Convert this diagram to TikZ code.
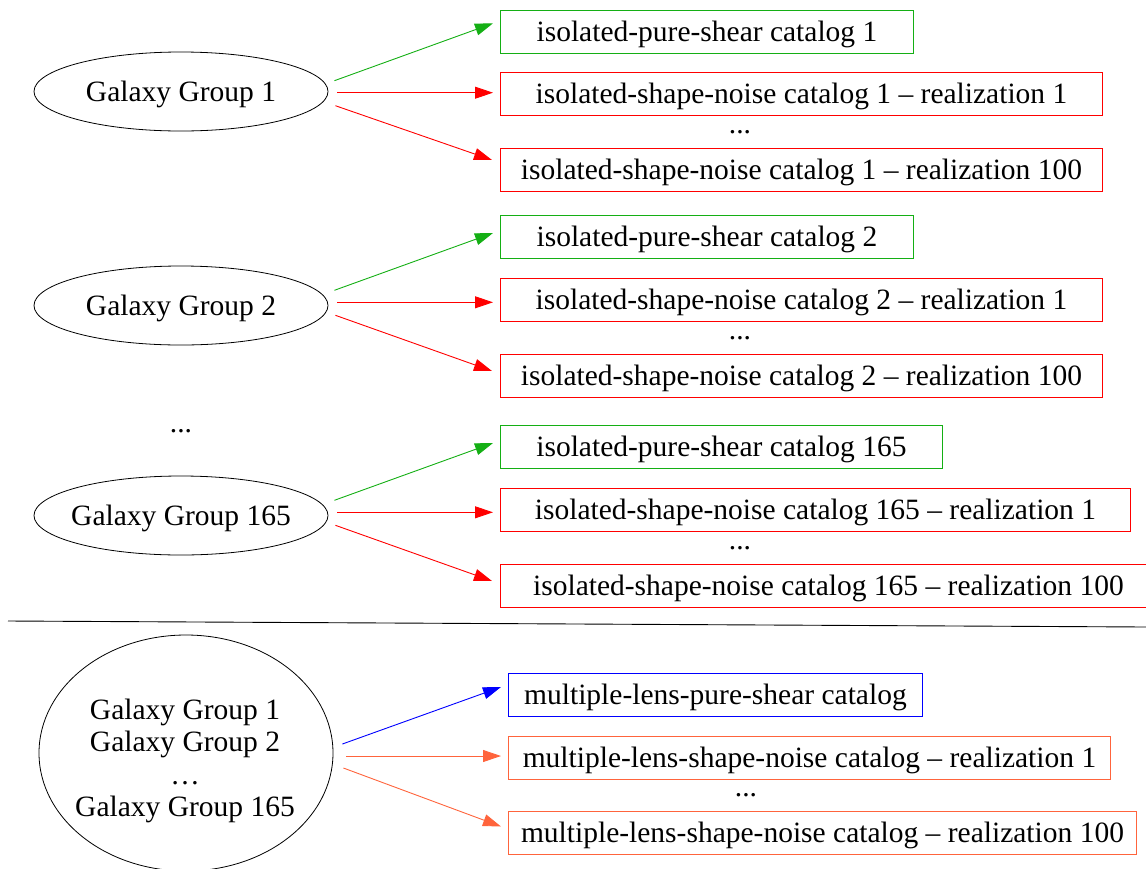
\documentclass[tikz,border=0pt]{standalone}
\usepackage{fontspec}
\setmainfont{Liberation Serif}
\usetikzlibrary{arrows.meta,shapes.geometric}
\definecolor{cgreen}{RGB}{20,175,20}
\definecolor{corange}{RGB}{255,100,60}
\begin{document}
\begin{tikzpicture}[x=1pt,y=-1pt,
  font=\fontsize{29.5}{32.3}\selectfont,
  grp/.style={ellipse,draw,line width=0.8pt,minimum width=294pt,minimum height=79pt,inner xsep=-8pt,inner ysep=0pt,text height=25pt,text depth=6pt},
  cat/.style={draw,line width=0.9pt,anchor=west,minimum height=43pt,inner sep=0pt,text height=25pt,text depth=6pt},
  arr/.style={line width=0.9pt,-{Triangle[length=18pt,width=12pt]}},
  dots/.style={inner sep=0pt}]
\useasboundingbox (0,0) rectangle (1146,868);

% ---------- group 1 ----------
\node[grp] (e1) at (181,91.5) {Galaxy Group 1};
\node[cat,draw=cgreen,minimum width=413pt] (g1) at (500,31.7) {isolated-pure-shear catalog 1};
\node[cat,draw=red,minimum width=602pt] (r1a) at (500,94.3) {isolated-shape-noise catalog 1 – realization 1};
\node[dots] (d1) at (740,132.5) {...};
\node[cat,draw=red,minimum width=602pt] (r1b) at (500,170.3) {isolated-shape-noise catalog 1 – realization 100};
\draw[arr,cgreen] ([shift={(6,-10.8)}]e1.east) -- ([shift={(-7,-8.4)}]g1.west);
\draw[arr,red] ([shift={(9,1.2)}]e1.east) -- ([shift={(-7,-1.6)}]r1a.west);
\draw[arr,red] ([shift={(7,14.2)}]e1.east) -- ([shift={(-8,-10.3)}]r1b.west);

% ---------- group 2 ----------
\node[grp] (e2) at (181,305.5) {Galaxy Group 2};
\node[cat,draw=cgreen,minimum width=413pt] (g2) at (500,237.3) {isolated-pure-shear catalog 2};
\node[cat,draw=red,minimum width=602pt] (r2a) at (500,300.2) {isolated-shape-noise catalog 2 – realization 1};
\node[dots] (d2) at (740,338) {...};
\node[cat,draw=red,minimum width=602pt] (r2b) at (500,375.5) {isolated-shape-noise catalog 2 – realization 100};
\draw[arr,cgreen] ([shift={(6,-15.2)}]e2.east) -- ([shift={(-7,-4.3)}]g2.west);
\draw[arr,red] ([shift={(9,-3.2)}]e2.east) -- ([shift={(-7,2.1)}]r2a.west);
\draw[arr,red] ([shift={(7,9.8)}]e2.east) -- ([shift={(-8,-4.5)}]r2b.west);

\node[dots] (dl) at (181,430.7) {...};

% ---------- group 165 ----------
\node[grp] (e3) at (181,515.5) {Galaxy Group 165};
\node[cat,draw=cgreen,minimum width=442pt] (g3) at (500,447.3) {isolated-pure-shear catalog 165};
\node[cat,draw=red,minimum width=630pt] (r3a) at (500,510.2) {isolated-shape-noise catalog 165 – realization 1};
\node[dots] (d3) at (740,548) {...};
\node[cat,draw=red,minimum width=656pt] (r3b) at (500,585.5) {isolated-shape-noise catalog 165 – realization 100};
\draw[arr,cgreen] ([shift={(6,-15.2)}]e3.east) -- ([shift={(-7,-4.3)}]g3.west);
\draw[arr,red] ([shift={(9,-3.2)}]e3.east) -- ([shift={(-7,2.1)}]r3a.west);
\draw[arr,red] ([shift={(7,9.8)}]e3.east) -- ([shift={(-8,-4.5)}]r3b.west);

% ---------- separator ----------
\coordinate (sl) at (8,621);
\coordinate (sr) at (1146,627);
\draw[line width=0.9pt] (sl) -- (sr);

% ---------- multiple lens ----------
\node[ellipse,draw,line width=0.8pt,minimum width=294pt,minimum height=236pt,inner sep=0pt] (e4) at (186,753) {};
\node[align=center,inner sep=0pt] (e4t) at (185,761) {Galaxy Group 1\\Galaxy Group 2\\…\\Galaxy Group 165};
\node[cat,draw=blue,minimum width=414pt] (m1) at (508,694.5) {multiple-lens-pure-shear catalog};
\node[cat,draw=corange,minimum width=602pt] (m2) at (508,757.5) {multiple-lens-shape-noise catalog – realization 1};
\node[dots] (d4) at (746,795) {...};
\node[cat,draw=corange,minimum width=628pt] (m3) at (508,833) {multiple-lens-shape-noise catalog – realization 100};
\draw[arr,blue] ([shift={(9,-9)}]e4.east) -- ([shift={(-7,-7.5)}]m1.west);
\draw[arr,corange] ([shift={(13,3)}]e4.east) -- ([shift={(-7,-1.5)}]m2.west);
\draw[arr,corange] ([shift={(10,15)}]e4.east) -- ([shift={(-7,-6.5)}]m3.west);
\end{tikzpicture}
\end{document}
